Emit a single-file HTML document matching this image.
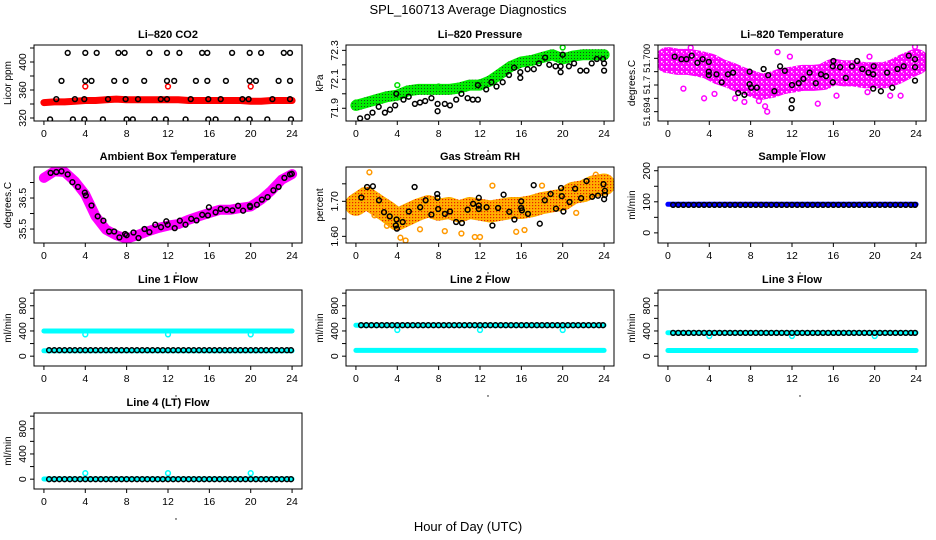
<!DOCTYPE html>
<html><head><meta charset="utf-8"><title>SPL_160713 Average Diagnostics</title>
<style>
html,body{margin:0;padding:0;background:#fff;}
svg{display:block;font-family:"Liberation Sans",Arial,sans-serif;}
</style></head>
<body>
<svg id="chart" width="936" height="540" viewBox="0 0 936 540" xmlns="http://www.w3.org/2000/svg">
<defs>
<pattern id="pGreen" width="3" height="3" patternUnits="userSpaceOnUse"><rect width="3" height="3" fill="#00ee00"/><rect x="1" y="1" width="1" height="1" fill="#1a4d1a"/></pattern>
<pattern id="pOrange" width="3" height="3" patternUnits="userSpaceOnUse"><rect width="3" height="3" fill="#ffb000"/><rect x="1" y="1" width="1.2" height="1.2" fill="#e82000"/></pattern>
<pattern id="pMag" width="5" height="5" patternUnits="userSpaceOnUse"><rect width="5" height="5" fill="#ff00ff"/><rect x="1" y="1" width="1.5" height="1.5" fill="#ffffff"/><rect x="3" y="3" width="1" height="1" fill="#ffc0ff"/></pattern>
</defs>
<text x="468" y="14" text-anchor="middle" font-size="13">SPL_160713  Average Diagnostics</text>
<text x="468" y="531" text-anchor="middle" font-size="13">Hour of Day (UTC)</text>
</svg>
<script>
// ---------- data ----------
const bandHours=[0,1,2,3,4,5,6,7,8,9,10,11,12,13,14,15,16,17,18,19,20,21,22,23,24];
const flowHours=[0.5,1,1.5,2,2.5,3,3.5,4,4.5,5,5.5,6,6.5,7,7.5,8,8.5,9,9.5,10,10.5,11,11.5,12,12.5,13,13.5,14,14.5,15,15.5,16,16.5,17,17.5,18,18.5,19,19.5,20,20.5,21,21.5,22,22.5,23,23.5,23.9];
const xTicks=[0,4,8,12,16,20,24];
const xTickLabels=["0","4","8","12","16","20","24"];

// Li-820 CO2
const co2Band=[342,343,343,344,345,345,346,347,346,346,346,346,346,346,345,345,345,345,345,345,344,344,345,345,345];
const co2RedX=[4,12,20];
const co2RedY=[365,365,365];
const co2BlackX=[2.3,4.0,5.1,7.2,7.8,10.2,11.9,13.1,15.3,15.8,18.2,19.9,21.0,23.2,23.8,
 1.7,4.0,4.6,6.8,7.9,9.7,11.9,12.6,14.7,15.8,17.6,19.9,20.5,22.7,23.8,
 1.2,3.0,3.9,6.2,7.9,9.1,11.3,11.9,14.2,15.9,17.1,19.2,19.8,22.1,23.8,
 0.6,2.8,3.9,5.7,8.0,8.6,10.7,11.8,13.7,15.9,16.6,18.7,19.9,21.6,23.9];
const co2BlackY=[413,413,413,413,413,413,413,413,413,413,413,413,413,413,413,
 373,373,373,373,373,373,373,373,373,373,373,373,373,373,373,
 347,347,347,347,347,347,347,347,347,347,347,347,347,347,347,
 318,318,318,318,318,318,318,318,318,318,318,318,318,318,318];
const co2Ticks=[320,340,360,380,400,420];
const co2TickLabels=["320","","360","","400",""];

// Li-820 Pressure
const presBand=[71.92,71.94,71.96,71.98,71.99,72.02,72.03,72.03,72.03,72.03,72.04,72.06,72.06,72.09,72.14,72.19,72.22,72.23,72.25,72.27,72.24,72.26,72.27,72.27,72.27];
const presGreenX=[0,4,8,12,20];
const presGreenY=[71.94,72.06,72.05,72.08,72.32];
const presBlackX=[0.4,1.1,1.6,2.2,2.8,3.3,3.8,3.9,4.6,5.1,5.7,6.2,6.7,7.3,7.9,7.9,8.6,9.1,9.7,10.2,10.8,11.3,11.8,11.8,12.6,13.1,13.6,14.2,14.8,15.3,15.9,15.9,16.6,17.2,17.7,18.3,18.7,19.3,19.8,19.8,20.0,20.6,21.1,21.7,22.3,22.8,23.3,23.9,24.0,24.0];
const presBlackY=[71.83,71.84,71.87,71.91,71.87,71.89,71.92,72.0,71.96,71.98,71.93,71.94,71.95,71.97,71.93,71.88,71.93,71.92,71.96,72.0,71.97,71.96,71.96,72.06,72.03,72.08,72.05,72.08,72.13,72.18,72.15,72.11,72.17,72.17,72.21,72.25,72.2,72.19,72.19,72.15,72.27,72.19,72.21,72.16,72.16,72.21,72.24,72.24,72.21,72.16];
const presTicks=[71.9,72.0,72.1,72.2,72.3];
const presTickLabels=["71.9","","72.1","","72.3"];

// Li-820 Temperature
const ltBand=[51.6998,51.6996,51.6996,51.6994,51.6991,51.6985,51.6981,51.6976,51.6972,51.6968,51.6970,51.6974,51.6976,51.6978,51.6978,51.6979,51.6985,51.6983,51.6983,51.6981,51.6981,51.6981,51.6985,51.6991,51.6996];
const ltMagX=[0.3,1.5,2.2,3.5,4.5,6.5,7.4,8.8,9.4,9.6,10.6,11.8,14.5,16.3,19.3,19.5,21.5,22.5,23.9];
const ltMagY=[51.6990,51.6966,51.7012,51.6955,51.6960,51.6955,51.6951,51.6952,51.6946,51.6940,51.7007,51.7002,51.6949,51.6958,51.6962,51.7002,51.6958,51.6958,51.7013];
const ltBlackX=[0.65,1.3,1.8,2.3,2.85,3.35,3.95,3.95,3.95,4.7,5.2,5.8,6.3,6.8,7.4,7.9,7.9,8.05,8.6,9.25,9.7,10.3,10.85,11.3,12.0,12.0,11.95,12.65,13.1,13.7,14.3,14.8,15.3,15.95,16.0,15.95,16.65,17.2,17.8,18.3,18.8,19.4,19.9,19.85,19.85,20.6,21.2,21.7,22.2,22.8,23.3,23.9,23.9,23.9];
const ltBlackY=[51.7002,51.6999,51.6999,51.7003,51.6995,51.6999,51.6996,51.6985,51.6981,51.6982,51.6973,51.6982,51.6984,51.6961,51.6959,51.6985,51.6971,51.6967,51.6967,51.6988,51.6981,51.6963,51.6991,51.6986,51.6970,51.6953,51.6944,51.6972,51.6977,51.6984,51.6972,51.6982,51.6980,51.6973,51.6997,51.6991,51.6990,51.6978,51.6991,51.6997,51.6988,51.6984,51.6991,51.6982,51.6966,51.6963,51.6984,51.6967,51.6988,51.6991,51.7003,51.6999,51.6990,51.6975];
const ltTicks=[51.694,51.6955,51.697,51.6985,51.700,51.7015];
const ltTickLabels=["51.694","","51.7","","51.700",""];

// Ambient Box Temperature
const ambBand=[37.15,37.36,37.34,37.04,36.61,35.91,35.48,35.30,35.19,35.30,35.42,35.53,35.61,35.66,35.80,35.91,36.02,36.12,36.12,36.18,36.23,36.45,36.74,37.09,37.27];
const ambBlackX=[0.65,1.2,1.7,2.3,2.75,3.3,3.95,4.05,4.6,5.2,5.75,6.3,6.8,7.3,7.85,8.0,8.66,9.15,9.73,10.2,10.77,11.32,11.84,11.97,12.65,13.14,13.69,14.24,14.76,15.31,15.86,15.96,16.6,17.1,17.68,18.23,18.78,19.26,19.92,19.95,20.6,21.08,21.63,22.19,22.7,23.26,23.8,23.97];
const ambBlackY=[37.31,37.34,37.36,37.26,37.01,36.86,36.67,36.58,36.26,35.91,35.77,35.42,35.42,35.23,35.34,35.30,35.39,35.21,35.50,35.40,35.64,35.56,35.75,35.64,35.53,35.77,35.64,35.83,35.78,35.96,35.94,36.20,36.04,36.15,36.12,36.10,36.25,36.09,36.25,36.21,36.28,36.45,36.53,36.75,36.86,37.15,37.26,37.28];
const ambTicks=[35.5,36.0,36.5,37.0];
const ambTickLabels=["35.5","","36.5",""];

// Gas Stream RH
const rhBand=[1.690,1.710,1.690,1.671,1.648,1.662,1.676,1.686,1.676,1.681,1.671,1.681,1.676,1.671,1.676,1.681,1.681,1.686,1.695,1.700,1.705,1.724,1.729,1.743,1.748];
const rhOrgX=[1.3,1.8,3.0,4.3,4.8,6.2,8.6,10.2,11.5,12.0,13.2,15.5,16.3,18.0,21.3,23.2];
const rhOrgY=[1.783,1.660,1.630,1.596,1.588,1.620,1.615,1.608,1.598,1.598,1.745,1.613,1.618,1.745,1.667,1.776];
const rhBlackX=[0.52,1.08,1.64,2.23,2.72,3.27,3.86,3.93,3.96,4.52,5.11,5.67,6.22,6.74,7.3,7.86,7.89,7.96,8.61,9.1,9.69,10.25,10.8,11.33,11.88,11.88,11.88,12.64,13.2,13.75,14.28,14.83,15.33,15.98,15.98,16.05,16.64,17.19,17.78,18.27,18.83,19.35,19.84,19.91,20.07,20.66,21.2,21.78,22.3,22.85,23.41,23.94,24.0,24.08,24.08];
const rhBlackY=[1.711,1.741,1.743,1.703,1.669,1.657,1.631,1.648,1.622,1.641,1.671,1.741,1.683,1.703,1.662,1.721,1.710,1.678,1.664,1.671,1.641,1.638,1.676,1.693,1.710,1.688,1.678,1.683,1.631,1.681,1.719,1.670,1.648,1.700,1.681,1.674,1.664,1.746,1.636,1.703,1.721,1.679,1.738,1.715,1.671,1.698,1.736,1.709,1.758,1.713,1.716,1.749,1.706,1.730,1.718];
const rhTicks=[1.60,1.65,1.70,1.75];
const rhTickLabels=["1.60","","1.70",""];

// Sample Flow
const sampleBand=[92,92,92,92,92,92,92,92,92,92,92,92,92,92,92,92,92,92,92,92,92,92,92,92,92];
const sampleBlack=[90,90,90,90,90,90,90,90,90,90,90,90,90,90,90,90,90,90,90,90,90,90,90,90,90,90,90,90,90,90,90,90,90,90,90,90,90,90,90,90,90,90,90,90,90,90,90,90];
const sampleTicks=[0,50,100,150,200];
const sampleTickLabels=["0","","100","","200"];

// Line flows
const flowTicks=[0,200,400,600,800,1000];
const flowTickLabels=["0","","400","","800",""];
const dipHours=[4,12,20];
const line1Hi=[400,400,400,400,400,400,400,400,400,400,400,400,400,400,400,400,400,400,400,400,400,400,400,400,400];
const line1Lo=[85,85,85,85,85,85,85,85,85,85,85,85,85,85,85,85,85,85,85,85,85,85,85,85,85];
const line1Dip=[345,345,345];
const line1Black=[95,95,95,95,95,95,95,95,95,95,95,95,95,95,95,95,95,95,95,95,95,95,95,95,95,95,95,95,95,95,95,95,95,95,95,95,95,95,95,95,95,95,95,95,95,95,95,95];
const line2Hi=[492,492,492,492,492,492,492,492,492,492,492,492,492,492,492,492,492,492,492,492,492,492,492,492,492];
const line2Lo=[92,92,92,92,92,92,92,92,92,92,92,92,92,92,92,92,92,92,92,92,92,92,92,92,92];
const line2Dip=[415,415,415];
const line2Black=[492,492,492,492,492,492,492,492,492,492,492,492,492,492,492,492,492,492,492,492,492,492,492,492,492,492,492,492,492,492,492,492,492,492,492,492,492,492,492,492,492,492,492,492,492,492,492,492];
const line3Hi=[372,372,372,372,372,372,372,372,372,372,372,372,372,372,372,372,372,372,372,372,372,372,372,372,372];
const line3Lo=[90,90,90,90,90,90,90,90,90,90,90,90,90,90,90,90,90,90,90,90,90,90,90,90,90];
const line3Dip=[320,320,320];
const line3Black=[369,369,369,369,369,369,369,369,369,369,369,369,369,369,369,369,369,369,369,369,369,369,369,369,369,369,369,369,369,369,369,369,369,369,369,369,369,369,369,369,369,369,369,369,369,369,369,369];
const line4Lo=[2,2,2,2,2,2,2,2,2,2,2,2,2,2,2,2,2,2,2,2,2,2,2,2,2];
const line4Dip=[95,95,95];
const line4Black=[0,0,0,0,0,0,0,0,0,0,0,0,0,0,0,0,0,0,0,0,0,0,0,0,0,0,0,0,0,0,0,0,0,0,0,0,0,0,0,0,0,0,0,0,0,0,0,0];

// ---------- drawing ----------
const NS='http://www.w3.org/2000/svg';
const svg=document.getElementById('chart');
function el(tag,parent){const e=document.createElementNS(NS,tag);parent.appendChild(e);return e;}
const colLeft=[34,346,658], rowTop=[45,167,290,413], PW=268, PH=76;
const XMIN=-0.96, XMAX=24.96;

const panels=[
 {name:'li820-co2',title:'Li\u2013820 CO2',ylab:'Licor ppm',c:0,r:0,ymin:315.7,ymax:424.3,ticks:co2Ticks,labels:co2TickLabels,
  series:[{k:'band',x:bandHours,y:co2Band,col:'#ff0000',w:7,n:'co2-band'},
          {k:'pts',x:co2RedX,y:co2RedY,col:'#ff0000',n:'co2-red-point'},
          {k:'pts',x:co2BlackX,y:co2BlackY,col:'#000',n:'co2-black-point'}]},
 {name:'li820-pressure',title:'Li\u2013820 Pressure',ylab:'kPa',c:1,r:0,ymin:71.812,ymax:72.337,ticks:presTicks,labels:presTickLabels,
  series:[{k:'band',x:bandHours,y:presBand,col:'url(#pGreen)',w:11,n:'pressure-band'},
          {k:'pts',x:presGreenX,y:presGreenY,col:'#00dd00',n:'pressure-green-point'},
          {k:'pts',x:presBlackX,y:presBlackY,col:'#000',n:'pressure-black-point'}]},
 {name:'li820-temperature',title:'Li\u2013820 Temperature',ylab:'degrees.C',c:2,r:0,ymin:51.69295,ymax:51.7015,ticks:ltTicks,labels:ltTickLabels,
  series:[{k:'band',x:bandHours,y:ltBand,col:'url(#pMag)',w:26,n:'li-temp-band'},
          {k:'pts',x:ltMagX,y:ltMagY,col:'#ff00ff',n:'li-temp-magenta-point'},
          {k:'pts',x:ltBlackX,y:ltBlackY,col:'#000',n:'li-temp-black-point'}]},
 {name:'ambient-box-temperature',title:'Ambient Box Temperature',ylab:'degrees.C',c:0,r:1,ymin:35.05,ymax:37.5,ticks:ambTicks,labels:ambTickLabels,
  series:[{k:'band',x:bandHours,y:ambBand,col:'#ff00ff',w:10,n:'ambient-band'},
          {k:'pts',x:ambBlackX,y:ambBlackY,col:'#000',n:'ambient-black-point'}]},
 {name:'gas-stream-rh',title:'Gas Stream RH',ylab:'percent',c:1,r:1,ymin:1.581,ymax:1.798,ticks:rhTicks,labels:rhTickLabels,
  series:[{k:'band',x:bandHours,y:rhBand,col:'url(#pOrange)',w:22,n:'rh-band'},
          {k:'pts',x:rhOrgX,y:rhOrgY,col:'#ff9900',n:'rh-orange-point'},
          {k:'pts',x:rhBlackX,y:rhBlackY,col:'#000',n:'rh-black-point'}]},
 {name:'sample-flow',title:'Sample Flow',ylab:'ml/min',c:2,r:1,ymin:-32.6,ymax:212,ticks:sampleTicks,labels:sampleTickLabels,
  series:[{k:'band',x:bandHours,y:sampleBand,col:'#0000ff',w:5,n:'sample-band'},
          {k:'pts',x:flowHours,y:sampleBlack,col:'#000',n:'sample-black-point'}]},
 {name:'line-1-flow',title:'Line 1 Flow',ylab:'ml/min',c:0,r:2,ymin:-156,ymax:1050,ticks:flowTicks,labels:flowTickLabels,
  series:[{k:'band',x:bandHours,y:line1Hi,col:'#00ffff',w:5,n:'line1-cyan-high'},
          {k:'band',x:bandHours,y:line1Lo,col:'#00ffff',w:5,n:'line1-cyan-low'},
          {k:'pts',x:dipHours,y:line1Dip,col:'#00ffff',n:'line1-cyan-dip'},
          {k:'pts',x:flowHours,y:line1Black,col:'#000',n:'line1-black-point'}]},
 {name:'line-2-flow',title:'Line 2 Flow',ylab:'ml/min',c:1,r:2,ymin:-156,ymax:1050,ticks:flowTicks,labels:flowTickLabels,
  series:[{k:'band',x:bandHours,y:line2Hi,col:'#00ffff',w:5,n:'line2-cyan-high'},
          {k:'band',x:bandHours,y:line2Lo,col:'#00ffff',w:5,n:'line2-cyan-low'},
          {k:'pts',x:dipHours,y:line2Dip,col:'#00ffff',n:'line2-cyan-dip'},
          {k:'pts',x:flowHours,y:line2Black,col:'#000',n:'line2-black-point'}]},
 {name:'line-3-flow',title:'Line 3 Flow',ylab:'ml/min',c:2,r:2,ymin:-156,ymax:1050,ticks:flowTicks,labels:flowTickLabels,
  series:[{k:'band',x:bandHours,y:line3Hi,col:'#00ffff',w:5,n:'line3-cyan-high'},
          {k:'band',x:bandHours,y:line3Lo,col:'#00ffff',w:5,n:'line3-cyan-low'},
          {k:'pts',x:dipHours,y:line3Dip,col:'#00ffff',n:'line3-cyan-dip'},
          {k:'pts',x:flowHours,y:line3Black,col:'#000',n:'line3-black-point'}]},
 {name:'line-4-flow',title:'Line 4 (LT) Flow',ylab:'ml/min',c:0,r:3,ymin:-156,ymax:1050,ticks:flowTicks,labels:flowTickLabels,
  series:[{k:'band',x:bandHours,y:line4Lo,col:'#00ffff',w:5,n:'line4-cyan-low'},
          {k:'pts',x:dipHours,y:line4Dip,col:'#00ffff',n:'line4-cyan-dip'},
          {k:'pts',x:flowHours,y:line4Black,col:'#000',n:'line4-black-point'}]}
];

panels.forEach(p=>{
  const L=colLeft[p.c], T=rowTop[p.r];
  const xs=h=>L+(h-XMIN)/(XMAX-XMIN)*PW;
  const ys=v=>T+(p.ymax-v)/(p.ymax-p.ymin)*PH;
  const g=el('g',svg);
  
  
  const clipId='clip-'+p.name;
  const cp=el('clipPath',g); cp.setAttribute('id',clipId);
  const cr=el('rect',cp); cr.setAttribute('x',L);cr.setAttribute('y',T);cr.setAttribute('width',PW);cr.setAttribute('height',PH);
  const plot=el('g',g); plot.setAttribute('clip-path','url(#'+clipId+')');
  
  
  p.series.forEach(s=>{
    if(s.k==='band'){
      const pl=el('polyline',plot);
      
      
      pl.setAttribute('points',s.x.map((h,i)=>xs(h).toFixed(1)+','+ys(s.y[i]).toFixed(1)).join(' '));
      pl.setAttribute('fill','none');pl.setAttribute('stroke',s.col);pl.setAttribute('stroke-width',s.w);
      pl.setAttribute('stroke-linecap','round');pl.setAttribute('stroke-linejoin','round');
    } else {
      s.x.forEach((h,i)=>{
        const c=el('circle',plot);
        
        
        c.setAttribute('cx',xs(h).toFixed(1));c.setAttribute('cy',ys(s.y[i]).toFixed(1));
        c.setAttribute('r',2.4);c.setAttribute('fill','none');c.setAttribute('stroke',s.col);c.setAttribute('stroke-width',1.5);
      });
    }
  });
  const box=el('rect',g);
  
  
  box.setAttribute('x',L);box.setAttribute('y',T);box.setAttribute('width',PW);box.setAttribute('height',PH);
  box.setAttribute('fill','none');box.setAttribute('stroke','#000');box.setAttribute('stroke-width',1);
  const t=el('text',g);
  
  
  t.setAttribute('x',L+PW/2);t.setAttribute('y',T-7);t.setAttribute('text-anchor','middle');
  t.setAttribute('font-size','11');t.setAttribute('font-weight','bold');t.textContent=p.title;
  const yl=el('text',g);
  
  
  yl.setAttribute('transform','translate('+(L-23)+','+(T+PH/2)+') rotate(-90)');
  yl.setAttribute('text-anchor','middle');yl.setAttribute('font-size','10');yl.textContent=p.ylab;
  // x axis
  const xa=el('g',g);
  
  
  const xl=el('line',xa);
  xl.setAttribute('x1',xs(xTicks[0]));xl.setAttribute('x2',xs(xTicks[xTicks.length-1]));
  xl.setAttribute('y1',T+PH);xl.setAttribute('y2',T+PH);xl.setAttribute('stroke','#000');
  xTicks.forEach((v,i)=>{
    const tk=el('line',xa);
    
    
    tk.setAttribute('x1',xs(v));tk.setAttribute('x2',xs(v));tk.setAttribute('y1',T+PH);tk.setAttribute('y2',T+PH+4);tk.setAttribute('stroke','#000');
    const tl=el('text',xa);
    
    
    tl.setAttribute('x',xs(v));tl.setAttribute('y',T+PH+16);tl.setAttribute('text-anchor','middle');tl.setAttribute('font-size','10.5');
    tl.textContent=xTickLabels[i];
  });
  const dot=el('circle',xa);
  
  
  dot.setAttribute('cx',xs(12)+8);dot.setAttribute('cy',T+PH+30);dot.setAttribute('r',0.7);dot.setAttribute('fill','#000');
  // y axis
  const ya=el('g',g);
  
  
  const fs=(p.name==='li820-temperature')?'9.5':'10.5';
  p.ticks.forEach((v,i)=>{
    const y=ys(v);
    const tk=el('line',ya);
    
    
    tk.setAttribute('x1',L-4);tk.setAttribute('x2',L);tk.setAttribute('y1',y);tk.setAttribute('y2',y);tk.setAttribute('stroke','#000');
    if(p.labels[i]){
      const tl=el('text',ya);
      
      
      tl.setAttribute('transform','translate('+(L-8)+','+y+') rotate(-90)');
      tl.setAttribute('text-anchor','middle');tl.setAttribute('font-size',fs);
      tl.textContent=p.labels[i];
    }
  });
});
</script>
</body></html>
